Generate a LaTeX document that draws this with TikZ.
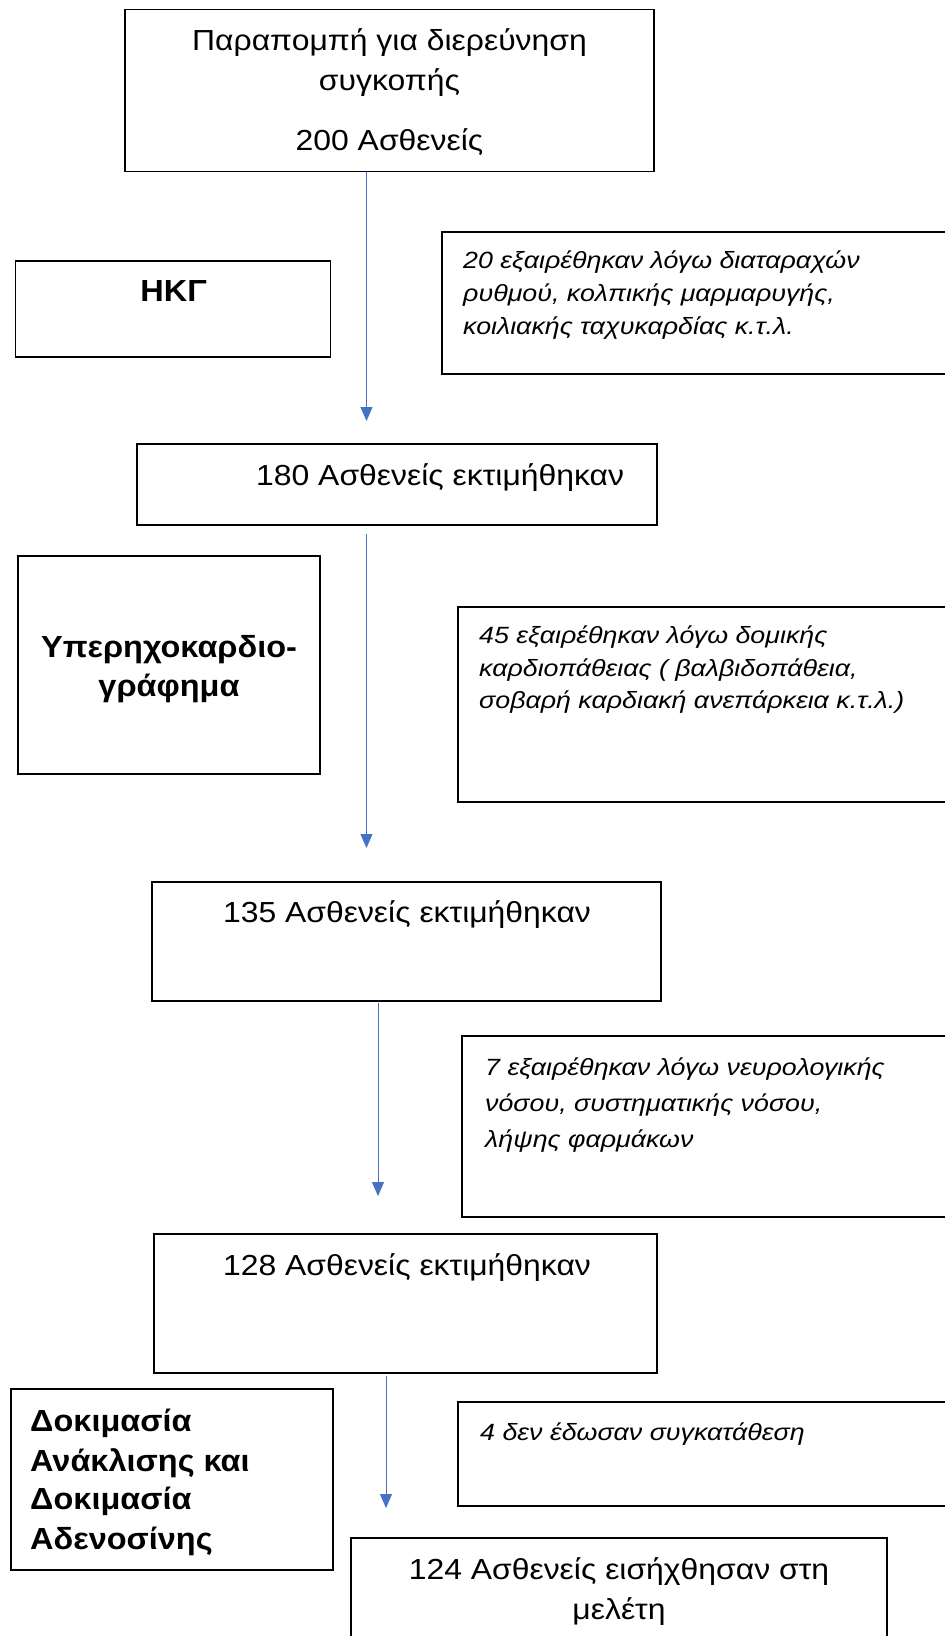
\documentclass[tikz,border=0pt]{standalone}
\usepackage{fontspec}
\setmainfont{Liberation Sans}
\newfontfamily\mainfnt[FakeStretch=1.10]{Liberation Sans}
\newfontfamily\boldfnt[FakeStretch=1.065,UprightFont=* Bold]{Liberation Sans}
\newfontfamily\notefnt[FakeStretch=1.14,UprightFont=* Italic]{Liberation Sans}
\usetikzlibrary{arrows.meta}
\definecolor{arrowblue}{HTML}{4472C4}
\tikzset{
  box/.style={draw=black, line width=1.3pt, rectangle, inner sep=0pt},
  thickbox/.style={box, line width=2pt},
  main/.style={font=\mainfnt\fontsize{29}{35}\selectfont, inner sep=0pt, anchor=base},
  side/.style={font=\boldfnt\fontsize{30.5}{40}\selectfont, inner sep=0pt},
  note/.style={font=\notefnt\fontsize{23.5}{33}\selectfont, inner sep=0pt, anchor=base west},
  flow/.style={draw=arrowblue, line width=1pt, -{Triangle[width=12pt,length=14pt]}}
}
\begin{document}
\begin{tikzpicture}[x=1pt,y=-1pt]
\useasboundingbox (0,0) rectangle (945,1636);
% boxes
\node[box, minimum width=529pt, minimum height=162pt] (b1) at (389.5,90.5) {};
\node[box, minimum width=315pt, minimum height=96pt] (ecg) at (173.3,309) {};
\node[box, minimum width=518pt, minimum height=142pt] (x1) at (701,303) {};
\node[box, minimum width=520pt, minimum height=81pt] (b2) at (397,484.5) {};
\node[thickbox, minimum width=301.5pt, minimum height=218.6pt] (echo) at (168.75,665) {};
\node[box, minimum width=502pt, minimum height=195pt] (x2) at (709,704.5) {};
\node[box, minimum width=509pt, minimum height=119pt] (b3) at (406.5,941.5) {};
\node[box, minimum width=498pt, minimum height=181pt] (x3) at (711,1126.5) {};
\node[box, minimum width=503pt, minimum height=139pt] (b4) at (405.5,1303.5) {};
\node[thickbox, minimum width=322pt, minimum height=181pt] (test) at (172,1479.5) {};
\node[box, minimum width=502pt, minimum height=104pt] (x4) at (709,1454) {};
\node[box, minimum width=536pt, minimum height=122pt] (b5) at (619,1599) {};
% texts
\node[main] (t1a) at (389.5,50) {Παραπομπή για διερεύνηση};
\node[main] (t1b) at (389.5,90) {συγκοπής};
\node[main] (t1c) at (389.5,150.7) {200 Ασθενείς};
\node[side, anchor=base] (tecg) at (173.6,301.7) {ΗΚΓ};
\node[note] (tx1) at (463,268) {20 εξαιρέθηκαν λόγω διαταραχών};
\node[note] (tx1b) at (463,301) {ρυθμού, κολπικής μαρμαρυγής,};
\node[note] (tx1c) at (463,334) {κοιλιακής ταχυκαρδίας κ.τ.λ.};
\node[main, anchor=base west] (t2) at (256,485) {180 Ασθενείς εκτιμήθηκαν};
\node[side, anchor=base] (techo) at (169,657.3) {Υπερηχοκαρδιο-};
\node[side, anchor=base] (techob) at (169,696) {γράφημα};
\node[note] (tx2) at (479,643) {45 εξαιρέθηκαν λόγω δομικής};
\node[note] (tx2b) at (479,676) {καρδιοπάθειας ( βαλβιδοπάθεια,};
\node[note] (tx2c) at (479,708) {σοβαρή καρδιακή ανεπάρκεια κ.τ.λ.)};
\node[main] (t3) at (407,922.7) {135 Ασθενείς εκτιμήθηκαν};
\node[note] (tx3) at (485,1075) {7 εξαιρέθηκαν λόγω νευρολογικής};
\node[note] (tx3b) at (485,1111) {νόσου, συστηματικής νόσου,};
\node[note] (tx3c) at (485,1147) {λήψης φαρμάκων};
\node[main] (t4) at (407,1275) {128 Ασθενείς εκτιμήθηκαν};
\node[side, anchor=base west] (ttest1) at (30,1431.7) {Δοκιμασία};
\node[side, anchor=base west] (ttest2) at (30,1471) {Ανάκλισης και};
\node[side, anchor=base west] (ttest3) at (30,1509) {Δοκιμασία};
\node[side, anchor=base west] (ttest4) at (30,1549) {Αδενοσίνης};
\node[note] (tx4) at (480,1440) {4 δεν έδωσαν συγκατάθεση};
\node[main] (t5a) at (619,1579) {124 Ασθενείς εισήχθησαν στη};
\node[main] (t5b) at (619,1619) {μελέτη};
% arrows
\coordinate (a1s) at (366.5,171.7);
\coordinate (a1e) at (366.5,421);
\coordinate (a2s) at (366.5,534);
\coordinate (a2e) at (366.5,848);
\coordinate (a3s) at (378,1003);
\coordinate (a3e) at (378,1196);
\coordinate (a4s) at (386,1376);
\coordinate (a4e) at (386,1508);
\draw[flow] (a1s) -- (a1e);
\draw[flow] (a2s) -- (a2e);
\draw[flow] (a3s) -- (a3e);
\draw[flow] (a4s) -- (a4e);
\end{tikzpicture}
\end{document}
